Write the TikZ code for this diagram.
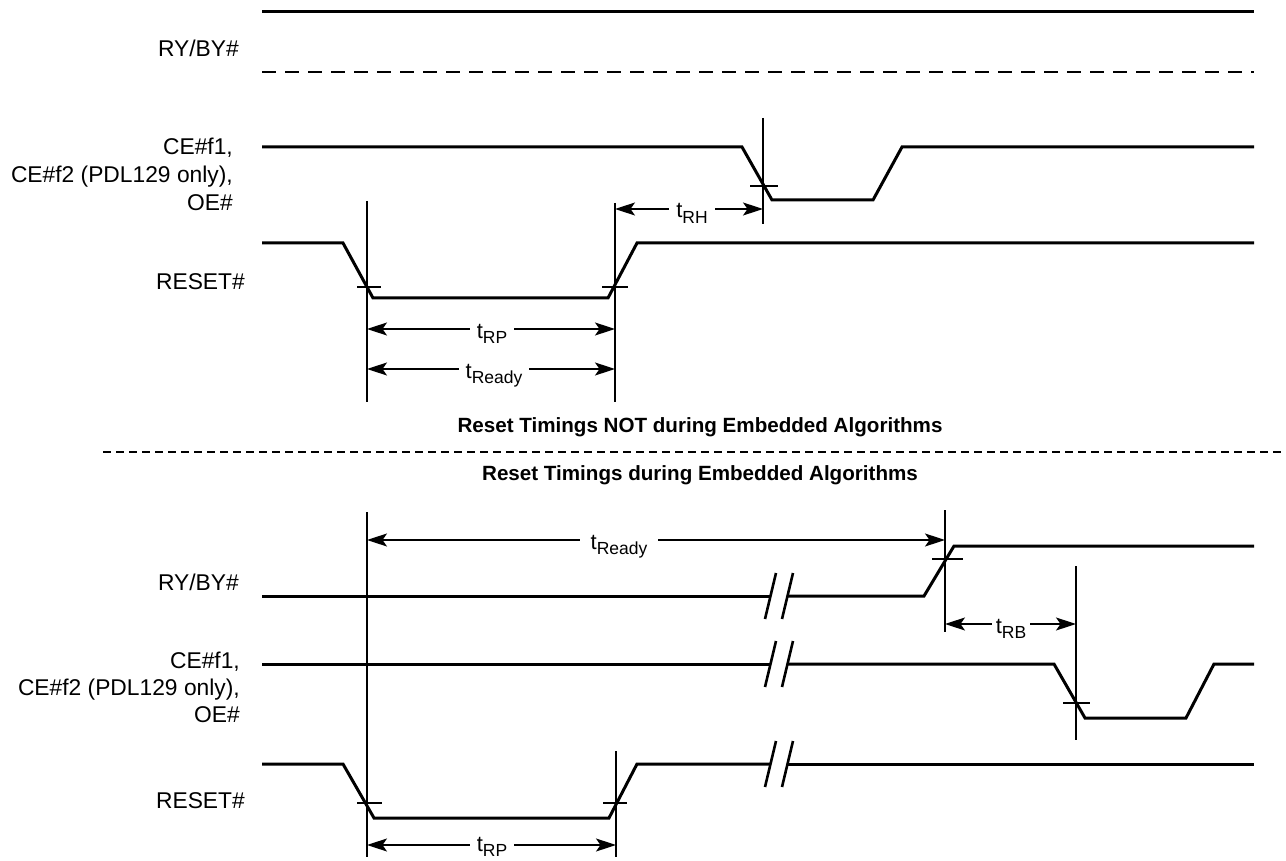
\documentclass[tikz,border=0pt]{standalone}
\usepackage{fontspec}
\setmainfont{Liberation Sans}
\usetikzlibrary{arrows.meta}
\newcommand{\tlab}[1]{t\raisebox{-0.27em}{\fontsize{17.5}{17.5}\selectfont #1}}
\begin{document}
\begin{tikzpicture}[x=1pt,y=-1pt,
  sig/.style={line width=3pt, line join=miter},
  guide/.style={line width=1.3pt},
  dim/.style={line width=1.3pt, {Stealth[length=20pt,width=13pt,inset=4.5pt]}-{Stealth[length=20pt,width=13pt,inset=4.5pt]}},
  lab/.style={font=\fontsize{22.8}{27}\selectfont, anchor=base east, inner sep=0pt},
  tl/.style={font=\fontsize{22}{24}\selectfont, fill=white, inner xsep=7pt, inner ysep=1pt, anchor=base},
  ttl/.style={font=\bfseries\fontsize{20.6}{24}\selectfont, anchor=base, inner sep=0pt}]
\useasboundingbox (0,0) rectangle (1286,861);

% ---------- top section ----------
\node[lab] (ry1) at (239,57) {RY/BY\#};
\node[lab] (ce1a) at (233,155) {CE\#f1,};
\node[lab] (ce1b) at (233,183) {CE\#f2 (PDL129 only),};
\node[lab] (ce1c) at (233,211) {OE\#};
\node[lab] (rs1) at (245,290) {RESET\#};

\draw[sig] (262,12) -- (1254,12);
\draw[line width=2.6pt, dash pattern=on 14pt off 9pt] (262,72) -- (1254,72);
\draw[sig] (262,147) -- (742,147) -- (772,200) -- (873,200) -- (902,147) -- (1254,147);
\draw[sig] (262,243) -- (343,243) -- (373,298) -- (608,298) -- (637,243) -- (1254,243);

\coordinate (a1t) at (367,201); \coordinate (a1b) at (367,402);
\coordinate (a2t) at (615,203); \coordinate (a2b) at (615,402);
\coordinate (a3t) at (763,118); \coordinate (a3b) at (763,224);
\draw[guide] (a1t) -- (a1b);
\draw[guide] (a2t) -- (a2b);
\draw[guide] (a3t) -- (a3b);
\draw[guide] (357,287) -- (381,287);
\draw[guide] (602,287) -- (628,287);
\draw[guide] (750,186) -- (778,186);

\coordinate (rpL) at (367,329); \coordinate (rpR) at (615,329);
\coordinate (rdL) at (367,369); \coordinate (rdR) at (615,369);
\coordinate (rhL) at (615,209); \coordinate (rhR) at (763,209);
\draw[dim] (rpL) -- (rpR);
\draw[dim] (rdL) -- (rdR);
\draw[dim] (rhL) -- (rhR);
\node[tl] (trp1) at (492,338) {\tlab{RP}};
\node[tl] (trd1) at (494,378) {\tlab{Ready}};
\node[tl] (trh1) at (692,218) {\tlab{RH}};

% ---------- middle ----------
\node[ttl] (h1) at (700,432) {Reset Timings NOT during Embedded Algorithms};
\draw[line width=2.2pt, dash pattern=on 8pt off 5pt] (103,452) -- (1286,452);
\node[ttl] (h2) at (700,480) {Reset Timings during Embedded Algorithms};

% ---------- bottom section ----------
\node[lab] (ry2) at (239,590) {RY/BY\#};
\node[lab] (ce2a) at (240,668) {CE\#f1,};
\node[lab] (ce2b) at (240,695) {CE\#f2 (PDL129 only),};
\node[lab] (ce2c) at (240,722) {OE\#};
\node[lab] (rs2) at (245,808) {RESET\#};

\draw[sig] (262,596) -- (770,596);
\draw[sig] (787,596) -- (924,596) -- (954,546) -- (1254,546);
\draw[sig] (262,664) -- (770,664);
\draw[sig] (787,664) -- (1054,664) -- (1085,718) -- (1186,718) -- (1214,664) -- (1254,664);
\draw[sig] (262,764) -- (343,764) -- (374,818) -- (609,818) -- (637,764) -- (770,764);
\draw[sig] (787,764) -- (1254,764);

\foreach \yy in {596,664,764}{
  \draw[line width=2.6pt] (765,\yy+23) -- (776,\yy-23);
  \draw[line width=2.6pt] (782,\yy+23) -- (793,\yy-23);
}

\coordinate (b1t) at (367,512); \coordinate (b1b) at (367,857);
\coordinate (b2t) at (616,751); \coordinate (b2b) at (616,857);
\coordinate (b3t) at (945,510); \coordinate (b3b) at (945,632);
\coordinate (b4t) at (1076,566); \coordinate (b4b) at (1076,740);
\draw[guide] (b1t) -- (b1b);
\draw[guide] (b2t) -- (b2b);
\draw[guide] (b3t) -- (b3b);
\draw[guide] (b4t) -- (b4b);
\draw[guide] (932,559) -- (963,559);
\draw[guide] (1063,703) -- (1090,703);
\draw[guide] (357,803) -- (382,803);
\draw[guide] (603,803) -- (627,803);

\coordinate (brdL) at (367,540); \coordinate (brdR) at (945,540);
\coordinate (brbL) at (945,624); \coordinate (brbR) at (1076,624);
\coordinate (brpL) at (367,845); \coordinate (brpR) at (616,845);
\draw[dim] (brdL) -- (brdR);
\draw[dim] (brbL) -- (brbR);
\draw[dim] (brpL) -- (brpR);
\node[tl, inner xsep=11pt] (trd2) at (619,549) {\tlab{Ready}};
\node[tl, inner xsep=4pt] (trb2) at (1011,633) {\tlab{RB}};
\node[tl, inner ysep=0pt] (trp2) at (492,851) {\tlab{RP}};
\end{tikzpicture}
\end{document}
